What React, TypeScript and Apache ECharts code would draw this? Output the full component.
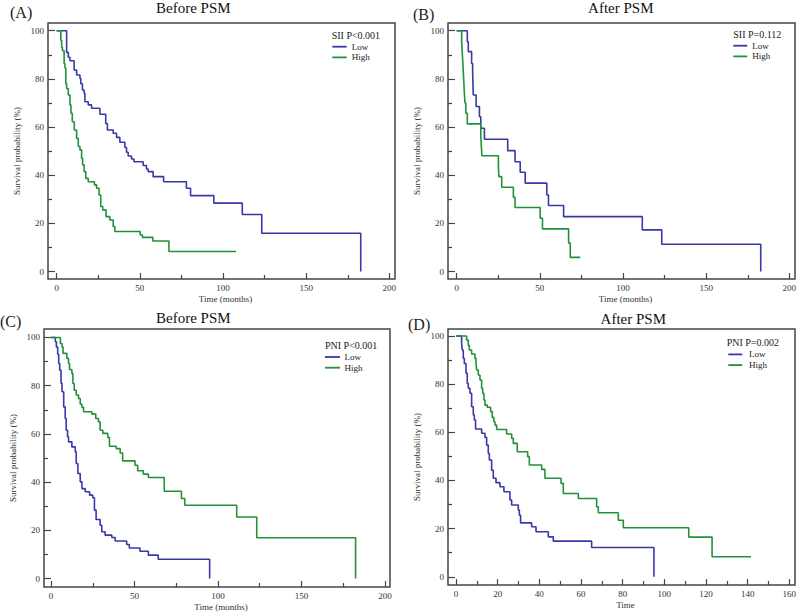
import React, { useEffect, useRef } from "react";
import * as echarts from "echarts";

// ---------- data: [time, survival %] at each step of the Kaplan-Meier curves ----------
const aLow: [number, number][] = [
  [0, 100], [6, 91], [7, 89], [8, 87.5], [10.5, 83.7], [12, 81.6], [14, 80.2], [14.5, 78], [15.5, 75.4],
  [16.5, 74], [17, 70.5], [19, 69.2], [21, 67.8], [26, 65.3], [29.5, 61.5], [30.5, 58.8], [34, 57.4],
  [36, 55.7], [38, 53.7], [41, 51.5], [42, 49.5], [43, 48], [45, 46.7], [46.5, 45.6], [52, 44], [54, 42.6],
  [55, 41.5], [58, 39.4], [64.3, 37.3], [78, 34.6], [80.5, 31.5], [94.5, 28.4], [111.6, 23.7],
  [123.3, 15.9], [182.8, 0],
];
const aHigh: [number, number][] = [
  [0, 100], [2.5, 96], [3, 93], [3.5, 91.7], [4.5, 86.3], [5, 84.4], [5.5, 78], [6, 76], [7, 73.3],
  [8, 69.2], [8.6, 65.7], [9.4, 62.2], [10.6, 58.8], [12, 55.3], [13, 51.9], [14, 50.5], [15, 47],
  [15.6, 44.3], [16.5, 41.5], [17.5, 38.7], [19, 37.3], [22.7, 36], [24, 34.6], [25.5, 31.8], [26.5, 27],
  [27.7, 25.6], [29.7, 22.8], [32, 21.4], [34, 18.7], [35, 16.6], [50.2, 15.2], [51.6, 14.2],
  [57.8, 12.7], [67.5, 8.3], [107.8, 8.3],
];
const bLow: [number, number][] = [
  [0, 100], [6.4, 95.4], [7, 91.3], [9, 86.4], [9.6, 83], [10, 73.3], [11.7, 68.5], [13.7, 64.3],
  [14.5, 59.5], [16.7, 54.9], [30.7, 50.2], [35.1, 45.6], [38.2, 41.2], [41.2, 36.7], [54.2, 31.8],
  [55.2, 27.4], [64.3, 22.8], [111.6, 17.3], [123.3, 11.3], [182.8, 0],
];
const bHigh: [number, number][] = [
  [0, 100], [3, 95.7], [3.3, 91.5], [3.7, 87], [4, 83], [4.3, 78.8], [4.6, 74.5], [5, 70], [5.5, 65.7],
  [6.4, 61.3], [14.5, 57], [14.8, 52.5], [15.2, 48.1], [25.1, 43.8], [25.4, 39.4], [27.1, 35],
  [34.1, 30.8], [35.1, 26.6], [50.2, 22.1], [51.6, 17.7], [67.3, 11.8], [68.3, 5.9], [74.3, 5.9],
];
const cLow: [number, number][] = [
  [0, 100], [2.6, 98.2], [3.2, 96], [4, 93], [4.6, 89.2], [5.2, 86.4], [6, 81], [6.6, 77.5], [7.6, 71.2],
  [8.5, 66.4], [9.1, 61.5], [9.9, 58.8], [10.5, 56.7], [12.5, 54.6], [14.5, 52.6], [15.1, 47.7],
  [16.1, 43.6], [17.5, 40.1], [18.5, 37.3], [20.5, 36], [23.1, 34.6], [25, 33.5], [26, 28.4], [27, 24.5],
  [29.4, 22.1], [30.4, 19.4], [32.4, 18], [36.4, 17], [38.4, 15.6], [45.3, 14.1], [46.9, 12.7],
  [53.3, 11.3], [58.3, 9.7], [64.2, 8], [95, 0],
];
const cHigh: [number, number][] = [
  [0, 100], [5.6, 97.5], [6.6, 96], [7.2, 93.4], [9.5, 91.3], [10.5, 89.2], [11.1, 86.7], [12.5, 85],
  [13.1, 80.9], [13.9, 78.1], [15.1, 76.1], [16.5, 74.7], [17.5, 72.3], [18.5, 71], [19.5, 69.2],
  [24.5, 68.2], [26.8, 66.4], [28.4, 65], [29.4, 61.5], [31, 60.2], [34, 58.5], [35, 54.9], [39, 53.9],
  [41.4, 52.1], [42.9, 48.8], [50.3, 47], [51.9, 44.7], [55.3, 43.3], [58.3, 41.9], [67.8, 36.2],
  [78.1, 33.2], [80.1, 30.4], [111.2, 25.5], [123.2, 16.9], [182.4, 0],
];
const dLow: [number, number][] = [
  [0, 100], [2.7, 97], [3, 94.2], [3.5, 90.7], [4, 88.6], [4.8, 84.5], [5.4, 80.3], [5.9, 78.3],
  [6.7, 76.2], [7.5, 70.6], [8.3, 67.2], [8.8, 65.1], [9.4, 61.4], [12.3, 59.6], [13.9, 57.9],
  [14.7, 54.7], [15.5, 51.2], [16, 48.5], [17.1, 44.3], [17.9, 40.9], [19.2, 39.1], [21.1, 37.4],
  [23, 35.3], [25.9, 31.9], [26.7, 29.8], [29.9, 27.7], [30.4, 25.6], [31, 22.4], [36.3, 20.8],
  [38.4, 18.7], [44.3, 16.6], [46.7, 14.8], [65.1, 12.2], [95, 0],
];
const dHigh: [number, number][] = [
  [0, 100], [5.1, 98.3], [5.9, 96.1], [6.4, 94.2], [7.5, 92.5], [9.1, 90.7], [9.6, 88.6], [9.9, 85.9],
  [10.7, 83.8], [11.5, 81.7], [12.3, 78.3], [12.8, 76.2], [13.4, 73.4], [13.9, 71.3], [15, 70.4],
  [16.6, 68.6], [17.4, 66.2], [18.2, 64.4], [18.7, 63], [19.5, 61.2], [24.3, 59.3], [26.7, 57.5],
  [27.5, 55.4], [29.4, 51.9], [34.4, 49.9], [35.2, 46.4], [41.1, 44.6], [42.7, 40.9], [50.4, 38.8],
  [51.5, 34.6], [58.7, 32.5], [67.5, 29.1], [68.3, 26.6], [77.9, 23.5], [80.3, 20.4], [111.7, 16.5],
  [122.9, 8.3], [141.6, 8.3],
];

const monthTicks = [0, 50, 100, 150, 200];
const monthMinorTicks = [25, 75, 125, 175];
const timeTicksD = [0, 20, 40, 60, 80, 100, 120, 140, 160];
const timeMinorTicksD = [10, 30, 50, 70, 90, 110, 130, 150];
const survTicks = [0, 20, 40, 60, 80, 100];
const survMinorTicks = [10, 30, 50, 70, 90];

const panelTitles = ["Before PSM", "After PSM", "Before PSM", "After PSM"];
const panelLetters = ["(A)", "(B)", "(C)", "(D)"];
const legendHeaders = ["SII P<0.001", "SII P=0.112", "PNI P<0.001", "PNI P=0.002"];
const groupNames = ["Low", "High"];
const xNames = ["Time (months)", "Time (months)", "Time (months)", "Time"];
const yName = "Survival probability (%)";

// ---------- styling / layout ----------
const FONT = '"Liberation Serif", "Times New Roman", Times, serif';
const BLUE = "#3838a8";
const GREEN = "#22913a";
const FRAME = "#454545";
const LABEL = "#333333";

const layouts = [
  { grid: { left: 48, top: 23, width: 347, height: 256 }, x: [-5.2, 203.4], y: [-3.1, 103.2],
    title: [193.3, 7.5], letter: [10, 12], legend: [331.7, 35, 332.3, 346.7, 351.7] },
  { grid: { left: 448, top: 23, width: 347, height: 256 }, x: [-5.2, 203.4], y: [-3.1, 103.2],
    title: [620.8, 7.5], letter: [413, 14], legend: [733.3, 34, 733.3, 747.3, 752.3] },
  { grid: { left: 44, top: 329, width: 346, height: 258 }, x: [-4.2, 203], y: [-3.5, 103.5],
    title: [193.3, 318], letter: [0, 321.7], legend: [325, 345.3, 325, 340, 344.5] },
  { grid: { left: 448, top: 329, width: 347, height: 256 }, x: [-3.84, 162.7], y: [-3.4, 102.9],
    title: [633.3, 318.7], letter: [408, 324], legend: [726.7, 342.7, 728.3, 742.3, 749] },
];

const curves = [
  [aLow, aHigh],
  [bLow, bHigh],
  [cLow, cHigh],
  [dLow, dHigh],
];

function buildOption() {
  const grid: any[] = [];
  const xAxis: any[] = [];
  const yAxis: any[] = [];
  const series: any[] = [];
  const graphic: any[] = [];
  const tickLine = { color: FRAME, width: 1.2 };

  layouts.forEach((L, i) => {
    grid.push({ ...L.grid, show: false, containLabel: false });
    const xt = i === 3 ? timeTicksD : monthTicks;
    const xm = i === 3 ? timeMinorTicksD : monthMinorTicks;

    xAxis.push({
      gridIndex: i, type: "value", min: L.x[0], max: L.x[1], position: "bottom",
      axisLine: { show: false, onZero: false },
      axisTick: { show: true, inside: true, length: 6, customValues: xt, lineStyle: tickLine },
      axisLabel: { show: true, customValues: xt, fontSize: 9, fontFamily: FONT, color: LABEL, margin: 4 },
      splitLine: { show: false },
      name: xNames[i], nameLocation: "middle", nameGap: 15,
      nameTextStyle: { fontSize: 9, fontFamily: FONT, color: LABEL, padding: [0, 0, 0, 8] },
    });
    xAxis.push({
      gridIndex: i, type: "value", min: L.x[0], max: L.x[1], position: "bottom",
      axisLine: { show: false, onZero: false },
      axisTick: { show: true, inside: true, length: 4, customValues: xm, lineStyle: tickLine },
      axisLabel: { show: false }, splitLine: { show: false },
    });
    yAxis.push({
      gridIndex: i, type: "value", min: L.y[0], max: L.y[1], position: "left",
      axisLine: { show: false, onZero: false },
      axisTick: { show: true, inside: true, length: 7, customValues: survTicks, lineStyle: tickLine },
      axisLabel: { show: true, customValues: survTicks, fontSize: 9, fontFamily: FONT, color: LABEL, margin: 4 },
      splitLine: { show: false },
      name: yName, nameLocation: "middle", nameGap: 27,
      nameTextStyle: { fontSize: 9, fontFamily: FONT, color: LABEL },
    });
    yAxis.push({
      gridIndex: i, type: "value", min: L.y[0], max: L.y[1], position: "left",
      axisLine: { show: false, onZero: false },
      axisTick: { show: true, inside: true, length: 4, customValues: survMinorTicks, lineStyle: tickLine },
      axisLabel: { show: false }, splitLine: { show: false },
    });

    const [low, high] = curves[i];
    [low, high].forEach((data, g) => {
      const color = g === 0 ? BLUE : GREEN;
      series.push({
        type: "line", name: groupNames[g], xAxisIndex: 2 * i, yAxisIndex: 2 * i,
        data, step: "end", showSymbol: false, symbol: "none", silent: true,
        lineStyle: { color, width: 1.6 }, itemStyle: { color },
      });
    });

    // frame
    graphic.push({
      type: "rect", z: 100, silent: true,
      shape: { x: L.grid.left, y: L.grid.top, width: L.grid.width, height: L.grid.height },
      style: { fill: "none", stroke: FRAME, lineWidth: 1.5 },
    });
    // titles
    graphic.push({
      type: "text", x: L.title[0], y: L.title[1],
      style: { text: panelTitles[i], font: `15px ${FONT}`, fill: "#111",
        textAlign: "center", align: "center", textVerticalAlign: "middle", verticalAlign: "middle" },
    });
    graphic.push({
      type: "text", x: L.letter[0], y: L.letter[1],
      style: { text: panelLetters[i], font: `16px ${FONT}`, fill: "#222",
        textAlign: "left", align: "left", textVerticalAlign: "middle", verticalAlign: "middle" },
    });
    // legend
    const [hx, hy, lx1, lx2, tx] = L.legend;
    graphic.push({
      type: "text", x: hx, y: hy,
      style: { text: legendHeaders[i], font: `10px ${FONT}`, fill: "#222",
        textAlign: "left", align: "left", textVerticalAlign: "middle", verticalAlign: "middle" },
    });
    groupNames.forEach((nm, g) => {
      const yy = hy + 11.7 + g * 10.7;
      graphic.push({
        type: "line", shape: { x1: lx1, y1: yy, x2: lx2, y2: yy },
        style: { stroke: g === 0 ? BLUE : GREEN, lineWidth: 1.8 },
      });
      graphic.push({
        type: "text", x: tx, y: yy,
        style: { text: nm, font: `9px ${FONT}`, fill: "#222",
          textAlign: "left", align: "left", textVerticalAlign: "middle", verticalAlign: "middle" },
      });
    });
  });

  return {
    animation: false,
    backgroundColor: "#ffffff",
    textStyle: { fontFamily: FONT },
    grid, xAxis, yAxis, series, graphic,
  };
}

export default function App() {
  const ref = useRef<HTMLDivElement>(null);
  useEffect(() => {
    if (!ref.current) return;
    const chart = echarts.init(ref.current, undefined, { renderer: "svg" });
    chart.setOption(buildOption() as any);
    return () => chart.dispose();
  }, []);
  return (
    <div
      ref={ref}
      style={{ position: "absolute", left: 0, top: 0, width: 800, height: 613, background: "#fff" }}
    />
  );
}
